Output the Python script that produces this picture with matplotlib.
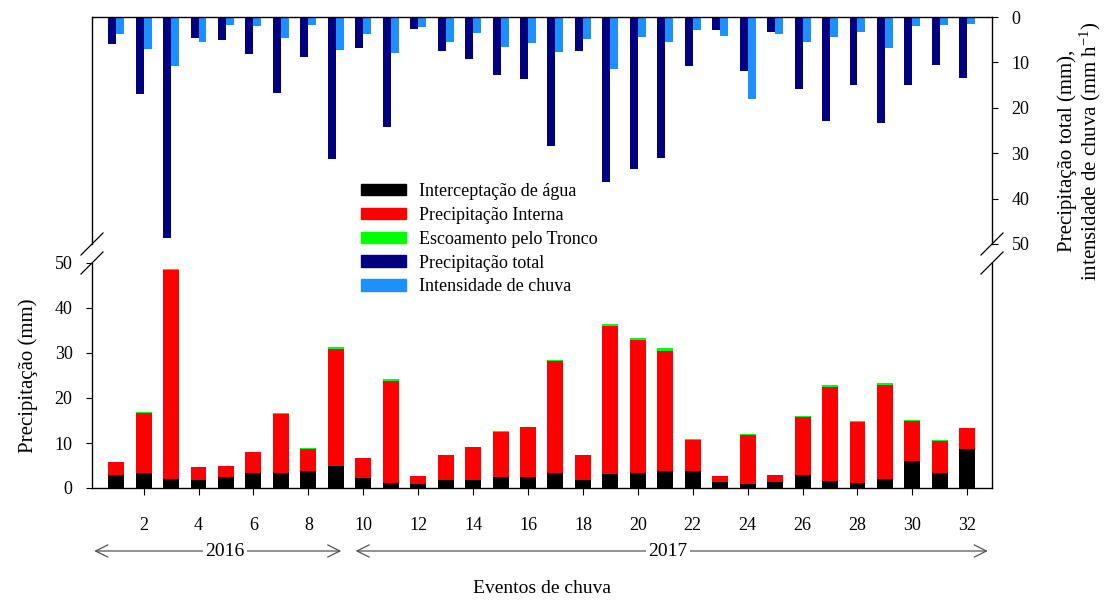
import numpy as np
import matplotlib
matplotlib.use('Agg')
import matplotlib.pyplot as plt
from matplotlib.patches import Patch

plt.rcParams['font.family'] = ['Liberation Serif', 'DejaVu Serif']
plt.rcParams['mathtext.fontset'] = 'custom'
plt.rcParams['mathtext.rm'] = 'Liberation Serif'

eventos = np.arange(1, 33)
# componentes (mm)
interceptacao = [2.8, 3.3, 1.9, 1.8, 2.5, 3.3, 3.3, 3.7, 5.0, 2.2, 1.2, 1.0, 1.7, 1.7, 2.4, 2.4,
                 3.3, 1.7, 3.2, 3.4, 3.8, 3.8, 1.4, 0.8, 1.3, 2.8, 1.6, 1.1, 2.1, 6.0, 3.4, 8.6]
prec_interna = [3.0, 13.45, 46.65, 2.85, 2.35, 4.75, 13.25, 5.05, 25.9, 4.45, 22.6, 1.65, 5.55, 7.45, 10.15, 11.05,
                24.9, 5.55, 32.7, 29.4, 26.7, 6.95, 1.25, 10.9, 1.65, 13.0, 20.9, 13.6, 20.8, 8.95, 7.15, 4.75]
escoamento = [0.05, 0.05, 0.05, 0.05, 0.05, 0.05, 0.05, 0.05, 0.4, 0.05, 0.5, 0.05, 0.05, 0.05, 0.05, 0.05,
              0.3, 0.05, 0.5, 0.5, 0.5, 0.05, 0.05, 0.3, 0.05, 0.1, 0.3, 0.1, 0.5, 0.05, 0.05, 0.05]
# painel superior
prec_total = [5.9, 16.9, 48.6, 4.7, 5.0, 8.1, 16.7, 8.9, 31.3, 6.8, 24.3, 2.7, 7.4, 9.3, 12.7, 13.6,
              28.5, 7.4, 36.3, 33.4, 31.0, 10.9, 2.8, 12.0, 3.2, 15.8, 22.8, 14.9, 23.4, 15.0, 10.6, 13.5]
intensidade = [3.8, 7.1, 10.7, 5.6, 1.8, 2.0, 4.7, 1.8, 7.3, 3.7, 8.0, 2.1, 5.4, 3.5, 6.5, 5.8,
               7.7, 4.8, 11.5, 4.3, 5.4, 2.9, 4.1, 18.1, 3.8, 5.6, 4.4, 3.2, 6.9, 2.0, 1.7, 1.5]

c_int, c_pi, c_esc = '#000000', '#ff0000', '#00ff00'
c_tot, c_inten = '#000080', '#1e8fff'

W, H = 1104, 603
fig = plt.figure(figsize=(W / 100, H / 100), dpi=100)
x0, x1 = 92, 992
ax_top = fig.add_axes([x0 / W, 1 - 244 / H, (x1 - x0) / W, (244 - 17) / H])
ax_bot = fig.add_axes([x0 / W, 1 - 488 / H, (x1 - x0) / W, (488 - 263) / H])

bw = 0.58
ax_top.bar(eventos - bw / 4, prec_total, bw / 2, color=c_tot)
ax_top.bar(eventos + bw / 4, intensidade, bw / 2, color=c_inten)

b1 = np.array(interceptacao)
b2 = b1 + np.array(prec_interna)
ax_bot.bar(eventos, interceptacao, bw, color=c_int)
ax_bot.bar(eventos, prec_interna, bw, bottom=b1, color=c_pi)
ax_bot.bar(eventos, escoamento, bw, bottom=b2, color=c_esc)

xlim = (0.12, 32.9)
for ax in (ax_top, ax_bot):
    ax.set_xlim(*xlim)
    for s in ax.spines.values():
        s.set_linewidth(1.0)

ax_top.set_ylim(50, 0)
ax_top.spines['bottom'].set_visible(False)
ax_top.set_xticks([])
ax_top.yaxis.tick_right()
ax_top.yaxis.set_label_position('right')
ax_top.set_yticks([0, 10, 20, 30, 40, 50])
ax_top.tick_params(axis='y', direction='out', length=4, labelsize=13, pad=10)
ax_top.set_ylabel('Precipitação total (mm),\nintensidade de chuva (mm $\\mathrm{h^{-1}}$)',
                  fontsize=15, linespacing=1.05, va='center')
ax_top.yaxis.set_label_coords(1.098, 0.41)

ax_bot.set_ylim(0, 50)
ax_bot.spines['top'].set_visible(False)
ax_bot.set_yticks([0, 10, 20, 30, 40, 50])
ax_bot.set_xticks(np.arange(2, 33, 2))
ax_bot.tick_params(axis='y', direction='out', length=4, labelsize=13, pad=10)
ax_bot.tick_params(axis='x', direction='out', length=5, labelsize=13, pad=16)
ax_bot.set_ylabel('Precipitação (mm)', fontsize=15, labelpad=12)
ax_bot.set_xlabel('Eventos de chuva', fontsize=14)
ax_bot.xaxis.set_label_coords(0.5, -0.41)

# marcas de quebra
dx = 11 / (x1 - x0)
dyt = 11 / (244 - 17)
dyb = 11 / (488 - 263)
kw = dict(color='k', lw=0.9, clip_on=False)
for xx in (0, 1):
    ax_top.plot([xx - dx, xx + dx], [-dyt, dyt], transform=ax_top.transAxes, **kw)
    ax_bot.plot([xx - dx, xx + dx], [1 - dyb, 1 + dyb], transform=ax_bot.transAxes, **kw)

# setas dos anos
ya = (488 - 551) / (488 - 263)
tr = ax_bot.get_xaxis_transform()
akw = dict(arrowstyle='<->', color='#555555', lw=0.9, mutation_scale=22)
ax_bot.annotate('', xy=(0.1, ya), xytext=(9.3, ya), xycoords=tr, textcoords=tr,
                arrowprops=akw, annotation_clip=False)
ax_bot.annotate('', xy=(9.62, ya), xytext=(32.85, ya), xycoords=tr, textcoords=tr,
                arrowprops=akw, annotation_clip=False)
for xt, t in ((4.96, '2016'), (21.1, '2017')):
    ax_bot.text(xt, ya, t, transform=tr, ha='center', va='center', fontsize=14,
                bbox=dict(facecolor='white', edgecolor='none', pad=1.5), clip_on=False)

handles = [Patch(color=c_int), Patch(color=c_pi), Patch(color=c_esc),
           Patch(color=c_tot), Patch(color=c_inten)]
labels = ['Interceptação de água', 'Precipitação Interna', 'Escoamento pelo Tronco',
          'Precipitação total', 'Intensidade de chuva']
fig.legend(handles, labels, loc='upper left', bbox_to_anchor=(361 / W, 1 - 183 / H),
           frameon=False, fontsize=13, handlelength=2.5, handleheight=0.6,
           labelspacing=0.38, handletextpad=0.7, borderpad=0, borderaxespad=0)

fig.savefig('out.png', dpi=100)
